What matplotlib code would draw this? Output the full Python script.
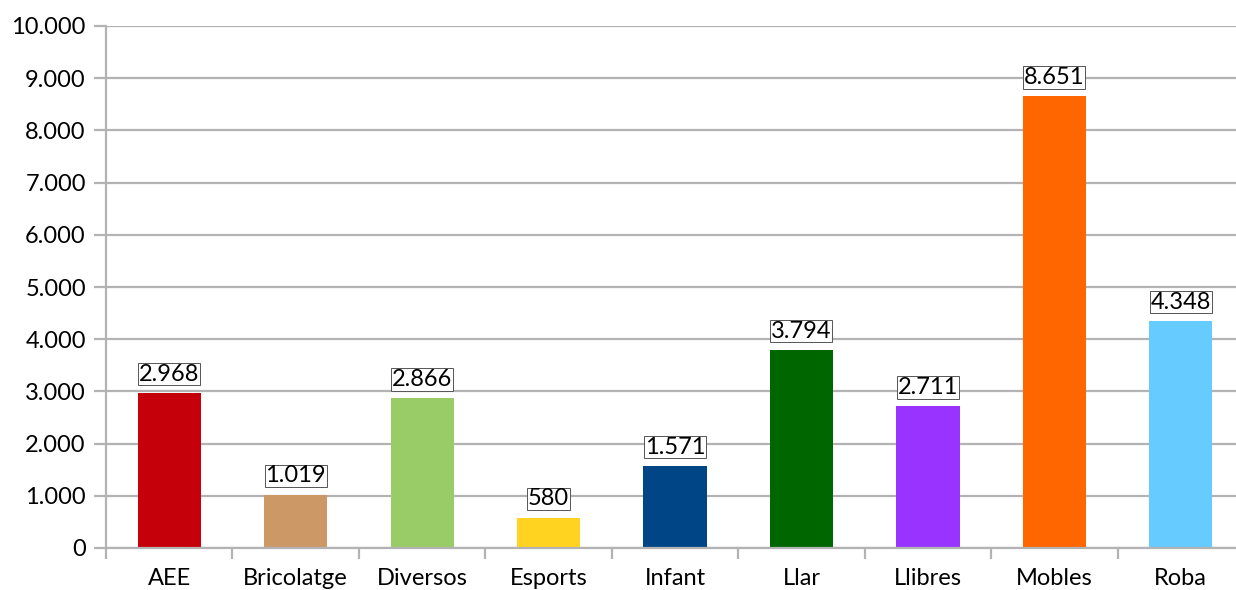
import matplotlib
matplotlib.use("Agg")
import matplotlib.pyplot as plt
from matplotlib.ticker import FuncFormatter, FixedLocator

categories = ["AEE", "Bricolatge", "Diversos", "Esports", "Infant", "Llar", "Llibres", "Mobles", "Roba"]
values = [2968, 1019, 2866, 580, 1571, 3794, 2711, 8651, 4348]
colors = ["#C5000B", "#CC9966", "#99CC66", "#FFD320", "#004586", "#006600", "#9933FF", "#FF6600", "#66CCFF"]
yticks = list(range(0, 10001, 1000))

def fmt(v):
    return f"{int(v):,}".replace(",", ".")

plt.rcParams['font.family'] = ['Lato', 'DejaVu Sans']
fig = plt.figure(figsize=(12.36, 5.9), dpi=100)
ax = fig.add_axes([106/1236, 42/590, 1138/1236, 522/590])

x = list(range(len(categories)))
ax.bar(x, values, width=0.5, color=colors, zorder=3)
ax.set_xlim(-0.5, len(categories) - 0.5)
ax.set_ylim(0, 10000)
ax.set_yticks(yticks)
ax.yaxis.set_major_formatter(FuncFormatter(lambda v, p: fmt(v)))
ax.grid(axis='y', color='#b3b3b3', linewidth=1.6, zorder=0)

ax.set_xticks([i + 0.5 for i in x[:-1]] + [-0.5])
ax.set_xticklabels([])
ax.xaxis.set_minor_locator(FixedLocator(x))
ax.set_xticklabels(categories, minor=True)
ax.tick_params(axis='x', which='major', length=8, width=1.6, color='#b3b3b3')
ax.tick_params(axis='x', which='minor', length=0, pad=14.5, labelsize=17)
ax.tick_params(axis='y', length=8.5, width=1.6, color='#b3b3b3', pad=6, labelsize=17)

for s in ['top', 'right']:
    ax.spines[s].set_visible(False)
for s in ['left', 'bottom']:
    ax.spines[s].set_color('#b3b3b3')
    ax.spines[s].set_linewidth(1.6)
    ax.spines[s].set_zorder(4)

for xi, v in zip(x, values):
    ax.annotate(fmt(v), (xi, v), xytext=(0, 6), textcoords='offset points',
                ha='center', va='bottom', fontsize=17,
                bbox=dict(boxstyle='square,pad=0.03', fc='white', ec='#555555', lw=0.7),
                zorder=5)

fig.savefig("out.png", dpi=100)
